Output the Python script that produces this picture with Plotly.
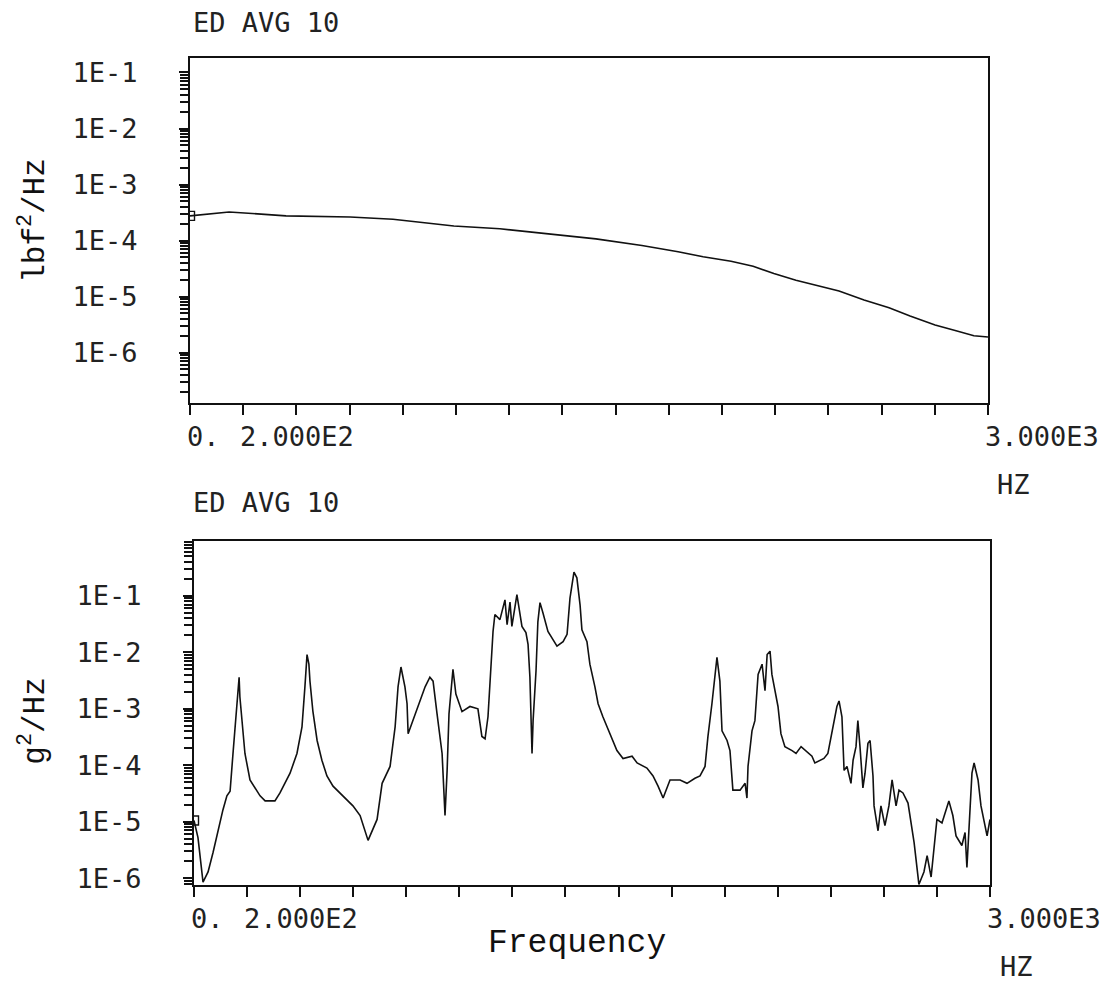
import plotly.graph_objects as go

# ---------------- data ----------------
force_freq_hz = [0, 147, 361, 602, 763, 868, 992, 1165, 1353, 1526, 1699, 1835, 1929,
                 2034, 2117, 2195, 2278, 2357, 2440, 2534, 2628, 2707, 2801, 2880, 2947, 3000]
force_psd = [2.75e-4, 3.24e-4, 2.75e-4, 2.63e-4, 2.40e-4, 2.14e-4, 1.82e-4, 1.62e-4, 1.32e-4,
             1.07e-4, 8.13e-5, 6.31e-5, 5.13e-5, 4.27e-5, 3.47e-5, 2.57e-5, 1.95e-5, 1.58e-5,
             1.26e-5, 8.7e-6, 6.3e-6, 4.5e-6, 3.1e-6, 2.45e-6, 2.0e-6, 1.9e-6]

accel_freq_hz = [0, 15, 34, 53, 72, 90, 109, 124, 136, 147, 155, 162, 170, 173, 181, 192, 211,
                 249, 268, 305, 324, 362, 388, 407, 418, 426, 433, 437, 448, 464, 482, 501, 524,
                 562, 599, 626, 656, 690, 709, 739, 758, 769, 780, 795, 803, 807, 825, 844, 871,
                 889, 901, 916, 935, 946, 954, 961, 972, 976, 987, 1010, 1040, 1070, 1085, 1097,
                 1108, 1119, 1127, 1134, 1153, 1172, 1180, 1191, 1198, 1217, 1221, 1236, 1251,
                 1259, 1266, 1274, 1278, 1289, 1296, 1304, 1315, 1334, 1368, 1391, 1406, 1417,
                 1432, 1443, 1455, 1462, 1481, 1492, 1511, 1523, 1541, 1568, 1594, 1617, 1651,
                 1670, 1707, 1730, 1749, 1768, 1794, 1832, 1858, 1888, 1907, 1926, 1937, 1952,
                 1964, 1971, 1982, 1990, 2009, 2020, 2031, 2058, 2077, 2084, 2088, 2103, 2114,
                 2126, 2141, 2152, 2160, 2171, 2178, 2201, 2212, 2227, 2254, 2269, 2288, 2307,
                 2329, 2340, 2374, 2389, 2408, 2423, 2431, 2442, 2450, 2461, 2476, 2484, 2495,
                 2502, 2510, 2521, 2529, 2540, 2548, 2559, 2563, 2578, 2589, 2604, 2619, 2631,
                 2646, 2657, 2672, 2691, 2714, 2725, 2732, 2751, 2763, 2778, 2789, 2800, 2819,
                 2845, 2860, 2872, 2894, 2906, 2913, 2925, 2932, 2940, 2955, 2966, 2989, 3000]
accel_psd = [1.05e-5, 5.25e-6, 8.5e-7, 1.29e-6, 2.88e-6, 6.9e-6, 1.62e-5, 2.88e-5, 3.47e-5,
             1.62e-4, 5.5e-4, 1.62e-3, 3.63e-3, 1.62e-3, 6.17e-4, 1.62e-4, 5.5e-5, 2.88e-5,
             2.34e-5, 2.34e-5, 3.24e-5, 7.24e-5, 1.62e-4, 4.79e-4, 2.45e-3, 9.12e-3, 6.17e-3,
             3.09e-3, 9.12e-4, 2.75e-4, 1.23e-4, 6.46e-5, 4.27e-5, 2.88e-5, 1.91e-5, 1.29e-5,
             4.68e-6, 1.10e-5, 4.79e-5, 9.55e-5, 4.79e-4, 2.45e-3, 5.5e-3, 2.45e-3, 1.23e-3,
             3.63e-4, 6.17e-4, 1.10e-3, 2.45e-3, 3.63e-3, 3.09e-3, 8.13e-4, 1.62e-4, 1.29e-5,
             8.13e-5, 8.13e-4, 4.07e-3, 5.01e-3, 1.82e-3, 8.91e-4, 1.10e-3, 1.0e-3, 3.24e-4,
             2.95e-4, 7.24e-4, 4.68e-3, 2.34e-2, 4.68e-2, 3.80e-2, 8.51e-2, 3.09e-2, 7.76e-2,
             2.88e-2, 1.05e-1, 7.76e-2, 2.88e-2, 2.24e-2, 1.38e-2, 3.63e-3, 1.62e-4, 6.17e-4,
             4.68e-3, 3.47e-2, 7.59e-2, 5.01e-2, 2.34e-2, 1.29e-2, 1.55e-2, 2.09e-2, 9.12e-2,
             2.63e-1, 2.09e-1, 6.92e-2, 2.51e-2, 1.55e-2, 6.17e-3, 2.45e-3, 1.23e-3, 7.24e-4,
             3.63e-4, 1.82e-4, 1.32e-4, 1.45e-4, 1.10e-4, 8.91e-5, 6.46e-5, 4.27e-5, 2.63e-5,
             5.5e-5, 5.5e-5, 4.79e-5, 5.89e-5, 6.46e-5, 9.55e-5, 3.24e-4, 1.23e-3, 4.07e-3,
             8.13e-3, 3.09e-3, 4.07e-4, 2.75e-4, 1.82e-4, 3.63e-5, 3.63e-5, 4.79e-5, 2.63e-5,
             9.55e-5, 4.07e-4, 6.17e-4, 4.07e-3, 6.17e-3, 2.09e-3, 9.12e-3, 1.05e-2, 4.07e-3,
             1.10e-3, 3.63e-4, 2.14e-4, 1.82e-4, 1.62e-4, 2.14e-4, 1.78e-4, 1.45e-4, 1.10e-4,
             1.32e-4, 1.62e-4, 4.79e-4, 1.10e-3, 1.38e-3, 7.24e-4, 8.13e-5, 9.55e-5, 4.79e-5,
             1.23e-4, 2.14e-4, 6.17e-4, 2.14e-4, 3.98e-5, 7.24e-5, 2.45e-4, 2.75e-4, 6.46e-5,
             1.91e-5, 6.92e-6, 1.91e-5, 8.51e-6, 1.91e-5, 5.5e-5, 1.91e-5, 3.63e-5, 3.24e-5,
             2.14e-5, 4.27e-6, 1.29e-6, 7.76e-7, 1.29e-6, 2.51e-6, 1.05e-6, 3.24e-6, 1.10e-5,
             9.55e-6, 2.34e-5, 1.29e-5, 5.62e-6, 3.80e-6, 6.46e-6, 1.55e-6, 1.45e-5, 7.24e-5,
             1.10e-4, 5.5e-5, 1.91e-5, 5.62e-6, 1.10e-5]

ytick_vals = [1e-1, 1e-2, 1e-3, 1e-4, 1e-5, 1e-6]
ytick_text = ["1E-1", "1E-2", "1E-3", "1E-4", "1E-5", "1E-6"]
xlabel_vals = [0, 200, 3000]
xlabel_text = ["0.", "2.000E2", "3.000E3"]
panel_title = "ED AVG 10"

# ---------------- styling ----------------
PAGE_W, PAGE_H = 1118, 991
OFF = 8                      # default page body margin
W, H = PAGE_W - OFF, PAGE_H - OFF
INK = "#111111"
PLOT_FONT = "DejaVu Sans Mono"
SERIF_FONT = "Liberation Mono"
minor_vals = [m * 10.0 ** e for e in range(-8, 1) for m in range(2, 10)]


def px_x(p):
    return (p - OFF) / W


def px_y(p):
    return 1 - (p - OFF) / H


fig = go.Figure()
fig.add_trace(go.Scatter(x=force_freq_hz, y=force_psd, mode="lines",
                         line=dict(color=INK, width=1.6), xaxis="x", yaxis="y",
                         showlegend=False, hoverinfo="skip"))
fig.add_trace(go.Scatter(x=force_freq_hz[:1], y=force_psd[:1], mode="markers",
                         marker=dict(symbol="square-open", size=9, color=INK,
                                     line=dict(width=1.4, color=INK)),
                         xaxis="x", yaxis="y", showlegend=False, hoverinfo="skip"))
fig.add_trace(go.Scatter(x=accel_freq_hz, y=accel_psd, mode="lines",
                         line=dict(color=INK, width=1.6), xaxis="x2", yaxis="y2",
                         showlegend=False, hoverinfo="skip"))
fig.add_trace(go.Scatter(x=accel_freq_hz[:1], y=accel_psd[:1], mode="markers",
                         marker=dict(symbol="square-open", size=9, color=INK,
                                     line=dict(width=1.4, color=INK)),
                         xaxis="x2", yaxis="y2", showlegend=False, hoverinfo="skip"))

xcommon = dict(range=[0, 3000], tickmode="linear", tick0=0, dtick=200,
               ticks="outside", ticklen=10, tickwidth=2, tickcolor=INK,
               showticklabels=False, showline=True, mirror=True, linecolor=INK,
               linewidth=2, showgrid=False, zeroline=False)
ycommon = dict(type="log", tickmode="array", tickvals=ytick_vals, ticktext=ytick_text,
               ticks="outside", ticklen=9, tickwidth=2, tickcolor=INK,
               tickfont=dict(family=PLOT_FONT, size=27, color="#222"),
               ticklabelstandoff=36,
               minor=dict(tickmode="array", tickvals=minor_vals, ticks="outside",
                          ticklen=8, tickwidth=1.5, tickcolor=INK, showgrid=False),
               showline=True, mirror=True, linecolor=INK, linewidth=2,
               showgrid=False, zeroline=False)

fig.update_layout(
    width=W, height=H, autosize=False,
    margin=dict(l=0, r=0, t=0, b=0),
    paper_bgcolor="white", plot_bgcolor="white",
    xaxis=dict(domain=[px_x(190), px_x(988)], anchor="y", **xcommon),
    yaxis=dict(domain=[px_y(406), px_y(58)], anchor="x", range=[-6.90, -0.75], **ycommon),
    xaxis2=dict(domain=[px_x(194), px_x(990)], anchor="y2", **xcommon),
    yaxis2=dict(domain=[px_y(893), px_y(545)], anchor="x2", range=[-6.12, -0.02], **ycommon),
)

ann = []
tf = dict(family=PLOT_FONT, size=27, color="#222")
# panel titles
for ytop in (22, 507):
    ann.append(dict(text=panel_title, xref="paper", yref="paper", x=px_x(191), y=px_y(ytop),
                    xanchor="left", yanchor="middle", showarrow=False, font=tf))
# x tick labels (left aligned at their tick)
for xr, ypix in (("x", 440), ("x2", 927)):
    for v, t in zip(xlabel_vals, xlabel_text):
        ann.append(dict(text=t, xref=xr, yref="paper", x=v, y=px_y(ypix), xanchor="left",
                        yanchor="middle", xshift=-5, showarrow=False, font=tf))
# HZ unit labels
for xpix, ypix in ((995, 488), (998, 975)):
    ann.append(dict(text="HZ", xref="paper", yref="paper", x=px_x(xpix), y=px_y(ypix),
                    xanchor="left", yanchor="middle", showarrow=False, font=tf))
# axis titles
sf = dict(family=SERIF_FONT, size=33, color="#111")
yt = dict(family=SERIF_FONT, size=31, color="#111")
ann.append(dict(text="Frequency", xref="paper", yref="paper", x=px_x(486), y=px_y(952),
                xanchor="left", yanchor="middle", showarrow=False, font=sf))
ann.append(dict(text="lbf<sup>2</sup>/Hz", xref="paper", yref="paper", x=px_x(33), y=px_y(222),
                xanchor="center", yanchor="middle", textangle=-90, showarrow=False, font=yt))
ann.append(dict(text="g<sup>2</sup>/Hz", xref="paper", yref="paper", x=px_x(33), y=px_y(728),
                xanchor="center", yanchor="middle", textangle=-90, showarrow=False, font=yt))
fig.update_layout(annotations=ann)

fig.write_html("out.html")
